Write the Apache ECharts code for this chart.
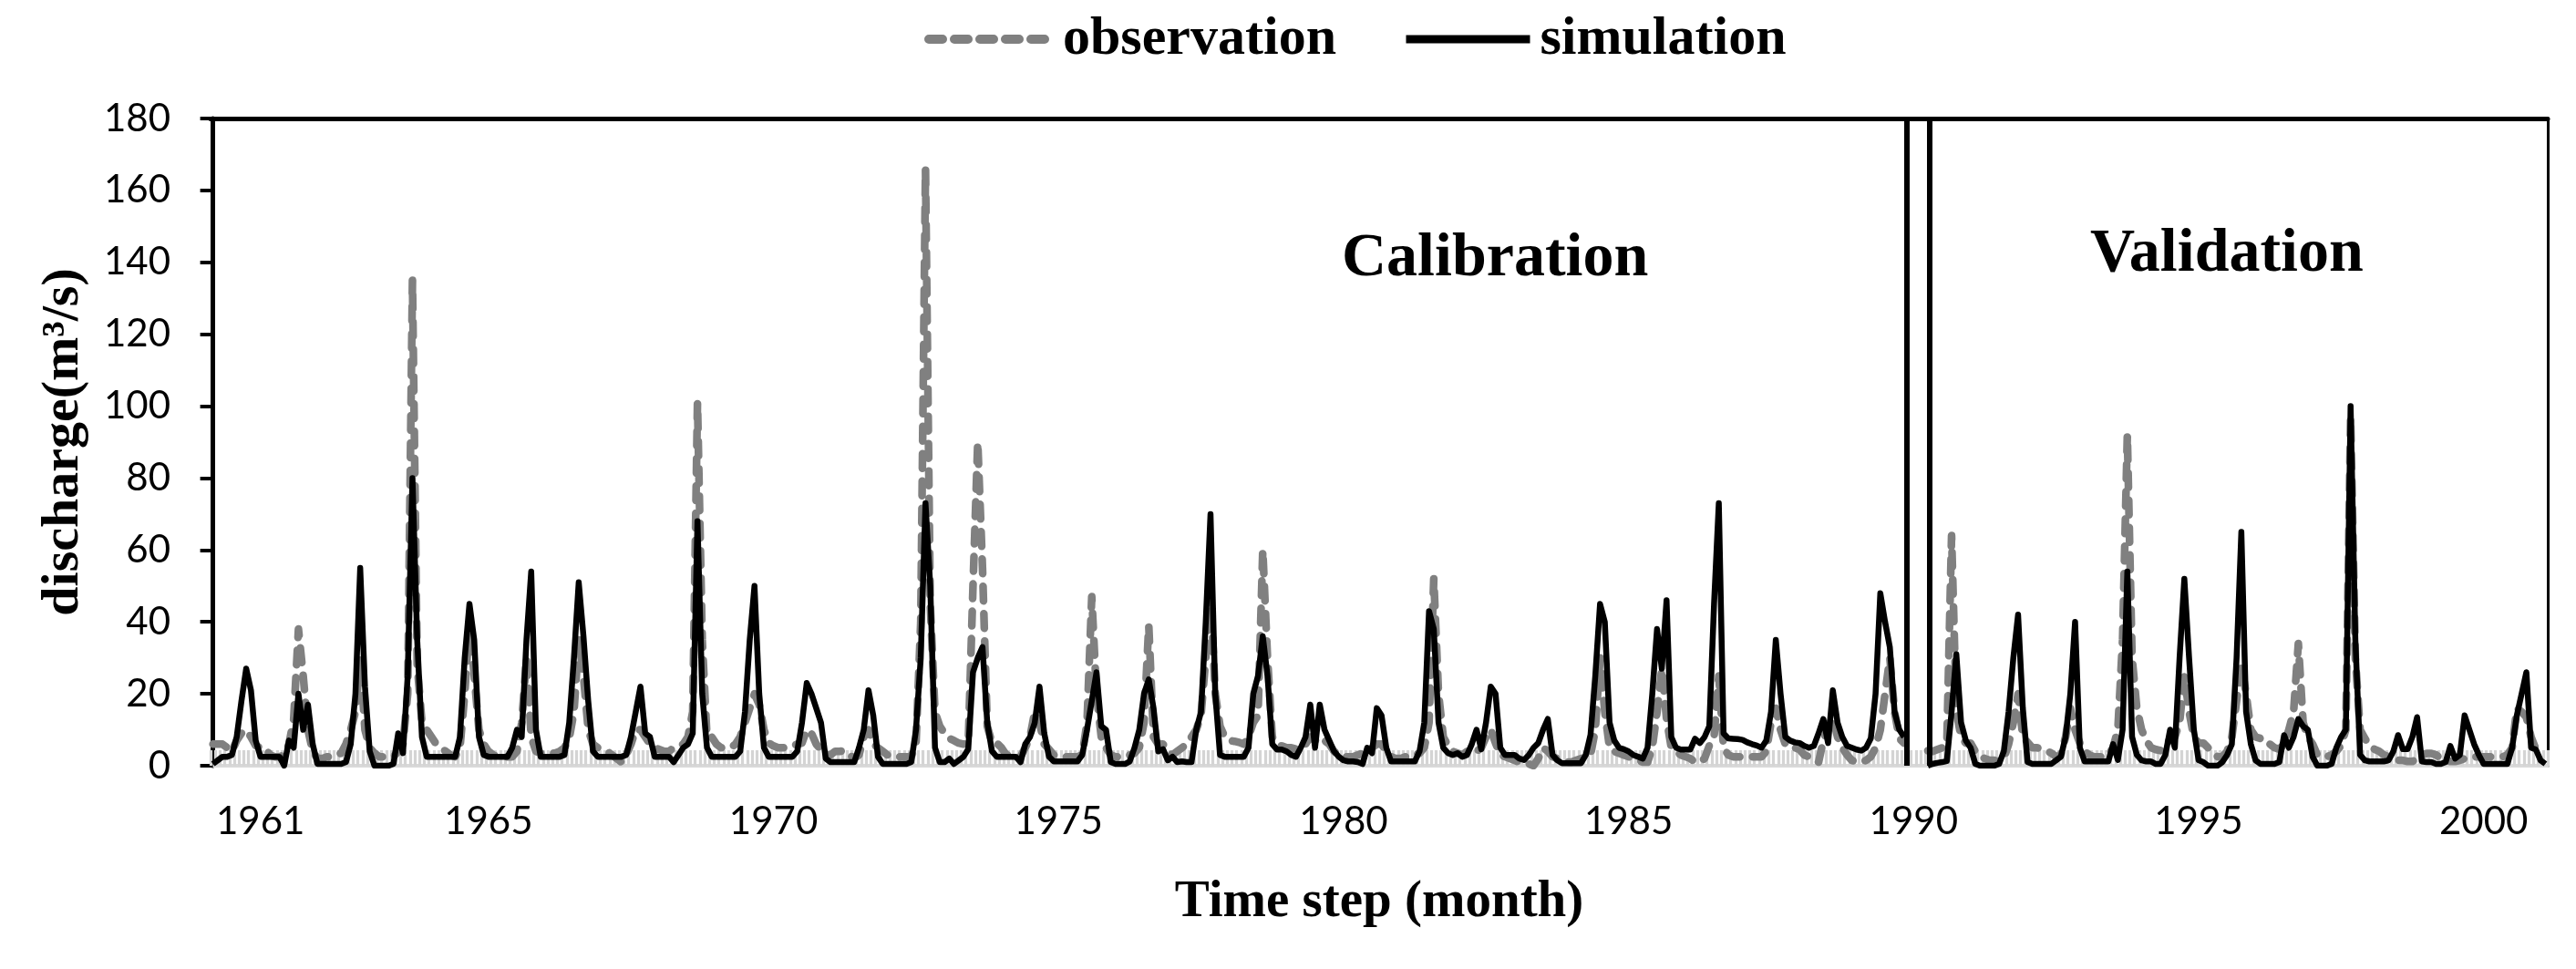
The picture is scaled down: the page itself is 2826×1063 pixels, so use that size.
<!DOCTYPE html>
<html>
<head>
<meta charset="utf-8">
<script src="https://cdn.jsdelivr.net/npm/echarts@6/dist/echarts.min.js"></script>
<style>
  html, body { margin: 0; padding: 0; background: #fff; }
  #chart { width: 2826px; height: 1063px; }
</style>
</head>
<body>
<div id="chart"></div>
<script>
// ---- categories: monthly time steps, first step March 1960 ----
const startYear = 1960;
const startMonth = 3;
const stepCount = 492;
const months = [];
for (let i = 0; i < stepCount; i++) {
  const m = startMonth - 1 + i;
  const y = startYear + Math.floor(m / 12);
  const mm = (m % 12) + 1;
  months.push(y + '-' + (mm < 10 ? '0' + mm : '' + mm));
}

// ---- tick labels ----
const labelYears = [1961, 1965, 1970, 1975, 1980, 1985, 1990, 1995, 2000];
const yTicks = { min: 0, max: 180, interval: 20 };

// ---- calibration / validation split (positions on the month index scale) ----
const periodBreaks = [356.6, 361.4];
const periodNames = ['Calibration', 'Validation'];

// ---- simulated discharge (m3/s), 12 months per row ----
const simulation = [
  0.5, 1.5, 2.5, 2.5, 3, 8, 18, 27, 21, 7, 2.5, 2.5,
  2.5, 2.5, 2.5, 0, 7, 5, 20, 10, 17, 6, 0.5, 0.5,
  0.5, 0.5, 0.5, 0.5, 1, 6, 20, 55, 22, 4, 0, 0,
  0, 0, 0.5, 9, 3.5, 25, 80, 35, 8, 2.5, 2.5, 2.5,
  2.5, 2.5, 2.5, 2.5, 8, 30, 45, 35, 8, 3, 2.5, 2.5,
  2.5, 2.5, 2.5, 5, 10, 8, 35, 54, 10, 2.5, 2.5, 2.5,
  2.5, 2.5, 3, 12, 30, 51, 36, 18, 4, 2.5, 2.5, 2.5,
  2.5, 2.5, 2.5, 3, 8, 15, 22, 9, 8, 2.5, 2.5, 2.5,
  2.5, 1, 3, 5, 6, 9, 68, 20, 5, 2.5, 2.5, 2.5,
  2.5, 2.5, 2.5, 4, 15, 35, 50, 20, 5, 2.5, 2.5, 2.5,
  2.5, 2.5, 2.5, 4, 12, 23, 20, 16, 12, 2, 1, 1,
  1, 1, 1, 1, 5, 10, 21, 14, 2.5, 0.5, 0.5, 0.5,
  0.5, 0.5, 0.5, 1, 10, 30, 73, 50, 5, 1, 1, 2,
  0.5, 1.5, 2.5, 4.6, 26, 30, 33, 12, 4, 2.5, 2.5, 2.5,
  2.5, 2.5, 1, 6, 8, 12, 22, 9, 2.5, 1.2, 1.2, 1.2,
  1.2, 1.2, 1.2, 3, 10, 18, 26, 11, 10, 1, 0.5, 0.5,
  0.5, 1.2, 5, 10, 20, 24, 16, 4, 4.6, 1.5, 2.5, 1,
  1.2, 1, 1, 10, 15, 40, 70, 20, 3, 2.5, 2.5, 2.5,
  2.5, 2.5, 5, 20, 25, 36, 25, 6, 4.5, 4.5, 4, 3,
  2.5, 5, 8, 17, 5, 17, 10, 7, 4, 2.5, 1.5, 1.2,
  1.2, 1, 0.5, 5, 3.5, 16, 14, 5, 1.2, 1.2, 1.2, 1.2,
  1.2, 1.2, 4, 12, 43, 38, 12, 5, 3.5, 3, 3.5, 2.5,
  3, 6, 10, 4.6, 12, 22, 20, 5, 3, 3, 3, 2,
  1.6, 3, 5, 6.3, 10, 13, 3, 1.5, 0.7, 0.7, 0.7, 0.7,
  0.7, 3, 8.6, 25, 45, 40, 12, 7, 5, 4.6, 4, 3,
  2.5, 2, 5, 20, 38, 27, 46, 8, 5, 4.5, 4.5, 4.5,
  7.5, 6.3, 8, 11, 45, 73, 9, 7.6, 7.5, 7.4, 7.2, 6.5,
  6, 5.6, 5, 7, 15, 35, 20, 8, 7, 6.5, 6.3, 5.5,
  5, 5.5, 9, 13, 6.3, 21, 12, 8, 5.5, 5, 4.5, 4.2,
  5, 7.6, 20, 48, 40, 33, 15, 10, 8, null, null, null,
  null, 0, 0.5, 0.8, 1, 1.3, 15, 31, 12, 7, 5, 0.5,
  0, 0, 0, 0, 0.5, 4, 15, 30, 42, 16, 1, 0.5,
  0.5, 0.5, 0.5, 0.5, 1.5, 2.5, 8, 20, 40, 5, 1.2, 1.2,
  1.2, 1.2, 1.2, 1.2, 6, 1.6, 10, 54, 8, 3, 1.5, 1.2,
  1.2, 0.5, 0.5, 3, 10, 5, 30, 52, 30, 10, 1.5, 1,
  0, 0, 0, 1, 3, 6, 30, 65, 15, 6, 1.5, 0.5,
  0.5, 0.5, 0.5, 1, 8.5, 5, 8, 13, 11, 10, 2.5, 0,
  0, 0, 0.5, 5, 8, 10, 100, 35, 3, 1.5, 1.2, 1.2,
  1.2, 1.2, 1.5, 4, 8.5, 4.6, 4.6, 8, 13.5, 1.2, 1, 1,
  0.5, 0.5, 1, 5.5, 2, 3, 14, 10, 6, 3, 0.5, 0.5,
  0.5, 0.5, 0.5, 0.5, 5, 14, 20, 26, 5, 4.5, 1.5, 0.5
];

// ---- observed discharge (m3/s), 12 months per row ----
const observation = [
  6, 6, 6, 5, 4, 7, 9, 10, 8, 5.6, 5, 5,
  3, 2.5, 2.5, 3, 6, 13, 38, 25, 10, 4, 2, 2,
  2.5, 2.5, 3, 3.5, 6, 10, 15, 30, 10, 5, 3.5, 2.5,
  2.5, 2.5, 2.5, 4, 6, 20, 135, 28, 12, 10, 8, 6,
  5, 4, 3, 2.5, 5, 20, 40, 25, 10, 6, 4, 3,
  2.5, 2.5, 2.5, 2.5, 4, 12, 30, 8, 4, 3.5, 3.5, 3.5,
  3.5, 4, 5, 7.6, 15, 35, 25, 10, 6, 5, 4.5, 4,
  3, 2, 1, 3, 6, 10, 10, 8, 6, 5, 4.5, 4,
  4, 5, 5.6, 6, 8, 15, 101, 35, 8, 8, 6, 5,
  5, 5, 6, 8, 12, 16, 20, 17, 10, 6.3, 5.5, 5,
  5, 5, 5.5, 6, 6.3, 10, 9, 6, 4.5, 3, 3, 4,
  4, 4.2, 3, 2, 3, 8, 10, 6, 5, 4, 3, 2.5,
  2.5, 2.5, 2.5, 2.5, 6, 40, 166, 45, 15, 11, 9, 7.6,
  7, 6.3, 6, 6, 50, 90, 55, 11, 6.3, 6.3, 5, 3,
  3, 2.5, 2.5, 5, 8, 15, 12, 6, 4.6, 3, 2.5, 2.5,
  2.5, 2.5, 2.5, 3, 12, 47, 20, 8, 5, 3, 2.5, 2.5,
  2.5, 3, 3.5, 5, 12, 39, 8, 6, 6, 4, 3, 4,
  5, 6, 8, 10, 14, 30, 48, 20, 11, 8, 7, 6.8,
  6.5, 6, 8, 12, 14, 60, 30, 8, 6, 5.5, 5, 5,
  4.6, 4.6, 6, 8, 7, 8, 7, 6, 4, 3, 2.5, 2.5,
  2.5, 3, 3.5, 4, 5, 6, 6, 4, 2.5, 2, 2, 2.5,
  2.5, 3, 3.5, 5, 12, 52, 20, 8, 5.6, 4, 3.5, 3,
  4, 3.5, 4, 5, 8, 10, 6.3, 3, 2.5, 2, 1.5, 1,
  1, 0.5, 0, 2, 5, 4, 2.5, 2, 1.5, 1, 1, 1.5,
  2, 2.5, 3, 10, 30, 15, 5, 4, 3.5, 3, 2.5, 2,
  1.5, 1, 1, 5, 15, 27, 13, 5, 4, 3, 2.5, 2,
  1, 1, 2, 5.6, 8, 25, 5, 3, 2.5, 2.5, 2.5, 2.5,
  2.5, 2.5, 2.5, 4, 12, 16, 10, 6, 5, 5, 4.5, 3,
  2.5, 1.5, 1, 7, 11, 13.5, 8, 5, 3, 1.5, 1, 1,
  1.5, 2.5, 5, 10, 20, 30, 15, 7.6, 6.3, null, null, null,
  null, 4.2, 4, 4.5, 5, 6, 64, 15, 8, 6.3, 6.3, 4,
  2.5, 2, 1.5, 1.5, 1, 2, 6, 12, 20, 8, 6.5, 5,
  5, 4.5, 4.2, 3.5, 2.5, 3, 8, 16, 10, 6.3, 4, 3,
  2.5, 2.5, 2.5, 3, 5, 10, 35, 92, 30, 16, 10, 7,
  5, 4.5, 4.2, 5, 7.6, 8, 12, 25, 15, 8, 6.3, 6.3,
  5, 4, 2.5, 2.5, 4, 8, 18, 28, 20, 10, 8, 7.6,
  7.6, 6, 5, 4.6, 6, 10, 15, 34, 12, 8, 6, 3,
  2.5, 2.5, 3, 4, 5.6, 10, 97, 30, 10, 7.6, 5.5, 4.6,
  4, 3, 2.5, 2, 1.5, 1.5, 1.2, 1.2, 2, 3, 3.4, 3.4,
  3, 2, 1.5, 1.2, 1.2, 1.5, 2, 2.5, 2.5, 2.5, 2.5, 2.5,
  2.5, 2.5, 2.5, 3, 5, 16, 15, 13.5, 8, 4.6, 4.2, 4.2
];

const serif = '"Liberation Serif", "Times New Roman", serif';
const sans = 'Lato, "Liberation Sans", sans-serif';

const obsColor = '#808080';
const simColor = '#000000';

const chart = echarts.init(document.getElementById('chart'), null, { renderer: 'canvas' });

chart.setOption({
  backgroundColor: '#ffffff',
  animation: false,
  legend: {
    data: [
      { name: 'observation', itemStyle: { opacity: 0 }, lineStyle: { width: 10, type: [15, 13], cap: 'round', color: obsColor } },
      { name: 'simulation', itemStyle: { opacity: 0 }, lineStyle: { width: 9, color: simColor } }
    ],
    left: 1009,
    top: 8,
    itemWidth: 136,
    itemHeight: 22,
    itemGap: 72,
    textStyle: { fontFamily: serif, fontWeight: 'bold', fontSize: 60, color: '#000', padding: [0, 0, 0, 6] }
  },
  grid: { left: 231, right: 31, top: 130, bottom: 223, containLabel: false },
  xAxis: [
    {
      type: 'category',
      data: months,
      boundaryGap: true,
      name: 'Time step (month)',
      nameLocation: 'middle',
      nameGap: 122,
      nameTextStyle: { fontFamily: serif, fontWeight: 'bold', fontSize: 57, color: '#000' },
      axisLine: { show: true, lineStyle: { color: '#d9d9d9', width: 4 } },
      axisTick: { show: true, inside: true, interval: 0, length: 17, lineStyle: { color: '#d4d4d4', width: 3.2 } },
      axisLabel: {
        interval: function (idx, val) {
          return val.slice(5) === '01' && labelYears.indexOf(+val.slice(0, 4)) >= 0;
        },
        formatter: function (val) { return val.slice(0, 4); },
        margin: 40,
        fontFamily: sans,
        fontSize: 42,
        color: '#000'
      },
      splitLine: { show: false }
    },
    {
      type: 'value',
      position: 'top',
      min: -0.5,
      max: stepCount - 0.5,
      axisLine: { show: true, onZero: false, lineStyle: { color: '#000', width: 5 } },
      axisTick: { show: false },
      axisLabel: { show: false },
      splitLine: { show: false }
    }
  ],
  yAxis: [
    {
      type: 'value',
      min: yTicks.min,
      max: yTicks.max,
      interval: yTicks.interval,
      name: 'discharge(m\u00b3/s)',
      nameLocation: 'middle',
      nameGap: 132,
      nameRotate: 90,
      nameTextStyle: { fontFamily: serif, fontWeight: 'bold', fontSize: 58, color: '#000' },
      axisLine: { show: true, lineStyle: { color: '#000', width: 5 } },
      axisTick: { show: true, inside: false, length: 14, lineStyle: { color: '#000', width: 4 } },
      axisLabel: { margin: 44, fontFamily: sans, fontSize: 42, color: '#000' },
      splitLine: { show: false }
    },
    {
      type: 'value',
      position: 'right',
      min: yTicks.min,
      max: yTicks.max,
      axisLine: { show: true, lineStyle: { color: '#000', width: 3 } },
      axisTick: { show: false },
      axisLabel: { show: false },
      splitLine: { show: false }
    }
  ],
  series: [
    {
      name: 'observation',
      type: 'line',
      data: observation,
      xAxisIndex: 0,
      yAxisIndex: 0,
      symbol: 'none',
      connectNulls: false,
      z: 2,
      lineStyle: { color: obsColor, width: 8.5, type: [16, 14], cap: 'round', join: 'round' },
      itemStyle: { color: obsColor }
    },
    {
      name: 'simulation',
      type: 'line',
      data: simulation,
      xAxisIndex: 0,
      yAxisIndex: 0,
      symbol: 'none',
      connectNulls: false,
      z: 3,
      lineStyle: { color: simColor, width: 6.5, join: 'round' },
      itemStyle: { color: simColor }
    },
    {
      name: 'period split',
      type: 'line',
      xAxisIndex: 1,
      yAxisIndex: 0,
      data: [],
      silent: true,
      markLine: {
        silent: true,
        symbol: 'none',
        label: { show: false },
        lineStyle: { color: '#000', width: 6, type: 'solid' },
        data: periodBreaks.map(function (v) { return { xAxis: v }; })
      }
    }
  ],
  graphic: [
    {
      type: 'text', left: 1472, top: 250, z: 10,
      style: { text: periodNames[0], font: 'bold 68px ' + serif, fill: '#000' }
    },
    {
      type: 'text', left: 2293, top: 245, z: 10,
      style: { text: periodNames[1], font: 'bold 68px ' + serif, fill: '#000' }
    }
  ]
});
</script>
</body>
</html>
